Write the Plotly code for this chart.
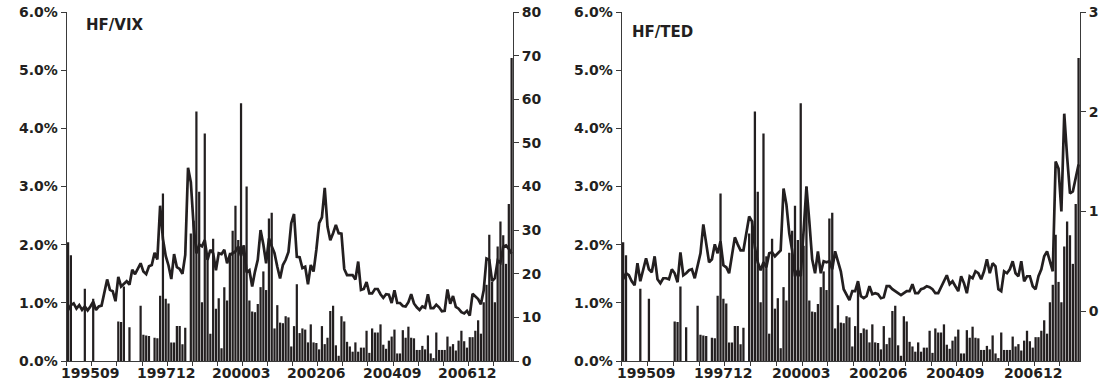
import pandas as pd
import plotly.graph_objects as go

# ---- data (monthly, 199501 .. 200804) ----
months = [p.strftime("%Y%m") for p in pd.period_range("1995-01", "2008-04", freq="M")]

hf_pct = [
    2.04, 1.82, 0, 0, 0, 0, 1.24, 0, 0, 1.07,
    0, 0, 0, 0, 0, 0, 0, 0, 0.68, 0.67,
    1.28, 0, 0.58, 0, 0, 0, 0.95, 0.45, 0.44, 0.43,
    0, 0.40, 0.39, 1.12, 2.88, 1.07, 0.99, 0.32, 0.32, 0.60,
    0.60, 0.29, 0.57, 0, 2.19, 2.41, 4.29, 2.91, 1.01, 3.91,
    1.80, 0.47, 2.10, 0.90, 1.08, 0.22, 1.27, 1.04, 1.86, 2.24,
    2.67, 2.08, 4.43, 1.98, 3.00, 1.04, 0.85, 0.84, 0.98, 1.27,
    1.54, 1.22, 2.45, 2.55, 0.56, 0.96, 0.66, 0.65, 0.77, 0.75,
    0.25, 0.60, 1.32, 0.48, 0.56, 0.54, 0.32, 0.63, 0.32, 0.31,
    0.20, 0.60, 0.29, 0.40, 0.86, 0.95, 0.27, 0.09, 0.77, 0.68,
    0.33, 0.25, 0.16, 0.32, 0.16, 0.23, 0.23, 0.52, 0.14, 0.56,
    0.49, 0.49, 0.63, 0.28, 0.21, 0.35, 0.42, 0.54, 0.13, 0.13,
    0.53, 0.40, 0.59, 0.40, 0.39, 0.19, 0.19, 0.26, 0.20, 0.44,
    0.13, 0.05, 0.49, 0.19, 0.19, 0.19, 0.42, 0.25, 0.29, 0.18,
    0.35, 0.52, 0.34, 0.23, 0.41, 0.41, 0.52, 0.70, 0.47, 1.01,
    1.31, 2.17, 1.36, 1.01, 1.97, 2.40, 2.16, 1.67, 2.70, 5.21,
]

vix = [
    11.7, 12.8, 13.2, 12.0, 12.8, 11.7, 12.5, 11.6, 12.5, 13.6,
    11.7, 12.5, 12.7, 15.6, 18.7, 16.3, 16.0, 13.7, 19.3, 17.1,
    17.6, 18.3, 17.5, 20.9, 19.9, 21.3, 22.4, 20.5, 19.9, 21.7,
    22.0, 24.8, 23.3, 35.6, 28.0, 24.1, 21.9, 18.8, 24.5, 21.5,
    21.1, 20.0, 24.3, 44.3, 41.0, 31.0, 24.7, 26.7, 26.3, 27.7,
    23.2, 25.5, 24.7, 20.8, 24.7, 24.5, 25.5, 22.4, 24.3, 24.7,
    25.1, 26.3, 24.1, 26.5, 20.3, 20.8, 17.1, 20.5, 23.2, 30.0,
    26.7, 22.4, 28.1, 26.3, 24.7, 21.6, 18.9, 22.0, 23.2, 25.0,
    31.6, 33.7, 23.9, 23.8, 21.3, 21.6, 17.6, 22.0, 20.5, 25.5,
    31.6, 32.9, 39.7, 30.8, 27.7, 29.3, 31.2, 29.3, 29.2, 21.1,
    19.7, 19.7, 19.7, 18.7, 22.8, 16.3, 16.5, 18.1, 15.5, 15.5,
    16.5, 16.5, 15.3, 14.5, 15.3, 15.2, 13.3, 16.2, 13.3, 13.3,
    12.6, 12.5, 13.5, 15.3, 13.2, 12.3, 11.7, 12.5, 12.2, 15.3,
    12.1, 12.1, 12.9, 12.3, 11.4, 11.5, 16.4, 13.1, 14.9, 12.4,
    12.0, 11.2, 10.9, 11.5, 10.4, 15.4, 14.7, 14.2, 13.0, 16.2,
    23.5, 23.2, 18.3, 19.0, 23.0, 22.5, 26.2, 26.5, 25.7, 24.6,
]

ted = [
    0.32, 0.38, 0.36, 0.30, 0.26, 0.48, 0.30, 0.42, 0.53, 0.42,
    0.39, 0.55, 0.32, 0.28, 0.33, 0.33, 0.32, 0.42, 0.38, 0.29,
    0.59, 0.36, 0.38, 0.41, 0.42, 0.33, 0.46, 0.58, 0.87, 0.67,
    0.49, 0.52, 0.67, 0.58, 0.70, 0.46, 0.44, 0.38, 0.58, 0.74,
    0.67, 0.61, 0.61, 0.78, 0.95, 0.90, 0.64, 0.49, 0.41, 0.49,
    0.44, 0.58, 0.59, 0.55, 0.58, 0.61, 1.23, 1.07, 0.78, 0.61,
    0.35, 0.41, 0.35, 0.78, 1.25, 0.90, 0.52, 0.38, 0.60, 0.38,
    0.50, 0.49, 0.50, 0.42, 0.60, 0.50, 0.40, 0.22, 0.17, 0.11,
    0.20, 0.20, 0.30, 0.15, 0.13, 0.15, 0.25, 0.17, 0.18, 0.17,
    0.13, 0.14, 0.25, 0.25, 0.22, 0.20, 0.18, 0.16, 0.18, 0.20,
    0.20, 0.27, 0.18, 0.18, 0.22, 0.23, 0.25, 0.24, 0.22, 0.18,
    0.18, 0.24, 0.30, 0.36, 0.27, 0.30, 0.25, 0.20, 0.35, 0.28,
    0.18, 0.35, 0.33, 0.40, 0.38, 0.32, 0.40, 0.52, 0.38, 0.48,
    0.45, 0.22, 0.20, 0.40, 0.38, 0.42, 0.50, 0.38, 0.35, 0.50,
    0.30, 0.35, 0.35, 0.25, 0.22, 0.35, 0.42, 0.55, 0.60, 0.50,
    0.40, 1.50, 1.43, 1.00, 1.98, 1.55, 1.18, 1.20, 1.32, 1.47,
]

pct_ticks = [0, 1, 2, 3, 4, 5, 6]
pct_labels = ["0.0%", "1.0%", "2.0%", "3.0%", "4.0%", "5.0%", "6.0%"]
vix_ticks = [0, 10, 20, 30, 40, 50, 60, 70, 80]
ted_ticks = [0, 1, 2, 3]
label_months = ["199509", "199712", "200003", "200206", "200409", "200612"]
panel_titles = ["HF/VIX", "HF/TED"]

# ---- figure ----
W, H = 1106, 392
INK = "#231f20"
AX = "#3a3a3a"
x = list(range(len(months)))
# tick marks every 9 months on category boundaries
boundary_ticks = [-0.5 + 9 * k for k in range(18)]

fig = go.Figure()
fig.add_trace(go.Bar(x=x, y=hf_pct, xaxis="x", yaxis="y", marker=dict(color=INK, line=dict(width=0)), showlegend=False, hoverinfo="skip"))
fig.add_trace(go.Scatter(x=x, y=vix, xaxis="x", yaxis="y2", mode="lines", line=dict(color=INK, width=2.7), showlegend=False, hoverinfo="skip"))
fig.add_trace(go.Bar(x=x, y=hf_pct, xaxis="x2", yaxis="y3", marker=dict(color=INK, line=dict(width=0)), showlegend=False, hoverinfo="skip"))
fig.add_trace(go.Scatter(x=x, y=ted, xaxis="x2", yaxis="y4", mode="lines", line=dict(color=INK, width=2.7), showlegend=False, hoverinfo="skip"))

tickfont = dict(family="DejaVu Sans", size=14, color=INK, weight="bold")
titlefont = dict(family="DejaVu Sans", size=15, color=INK, weight="bold")
ydom = [31 / H, 380 / H]


def xax(dom, anchor):
    return dict(domain=dom, anchor=anchor, range=[-0.5, len(months) - 0.5],
                tickmode="array", tickvals=boundary_ticks, showticklabels=False,
                ticks="outside", ticklen=4, tickcolor=AX, showline=True, linecolor=AX, linewidth=1,
                showgrid=False, zeroline=False, automargin=False, fixedrange=True)


def yleft(anchor):
    return dict(domain=ydom, anchor=anchor, range=[0, 6], tickmode="array", tickvals=pct_ticks,
                ticktext=pct_labels, ticks="outside", ticklen=5, tickcolor=AX, showline=True,
                linecolor=AX, linewidth=1, showgrid=False, zeroline=False, tickfont=tickfont,
                automargin=False, fixedrange=True)


def yright(anchor, over, rng, vals):
    return dict(anchor=anchor, overlaying=over, side="right", range=rng, tickmode="array",
                tickvals=vals, ticks="outside", ticklen=5, tickcolor=AX, showline=True,
                linecolor=AX, linewidth=1, showgrid=False, zeroline=False, tickfont=tickfont,
                automargin=False, fixedrange=True)


d1 = [66.7 / W, 513 / W]
d2 = [621.7 / W, 1080 / W]

# month labels under the bars they name (category centres)
annotations = []
for xref in ["x", "x2"]:
    for m in label_months:
        annotations.append(dict(text=m, x=months.index(m), xref=xref, y=1 - 372.5 / H, yref="paper",
                                xanchor="center", yanchor="middle", showarrow=False, font=tickfont))
annotations.append(dict(text=panel_titles[0], x=84 / W, y=1 - 25 / H, xref="paper", yref="paper",
                        xanchor="left", yanchor="middle", showarrow=False, font=titlefont))
annotations.append(dict(text=panel_titles[1], x=630 / W, y=1 - 31.5 / H, xref="paper", yref="paper",
                        xanchor="left", yanchor="middle", showarrow=False, font=titlefont))

fig.update_layout(
    width=W, height=H, margin=dict(l=0, r=0, t=0, b=0, autoexpand=False),
    paper_bgcolor="white", plot_bgcolor="white", bargap=0.2,
    xaxis=xax(d1, "y"),
    yaxis=yleft("x"),
    yaxis2=yright("x", "y", [0, 80], vix_ticks),
    xaxis2=xax(d2, "y3"),
    yaxis3=yleft("x2"),
    yaxis4=yright("x2", "y3", [-0.5, 3], ted_ticks),
    annotations=annotations,
)

fig.write_html("out.html", config={"displayModeBar": False, "staticPlot": True},
               post_script="document.body.style.margin='0px';document.body.style.overflow='hidden';")
